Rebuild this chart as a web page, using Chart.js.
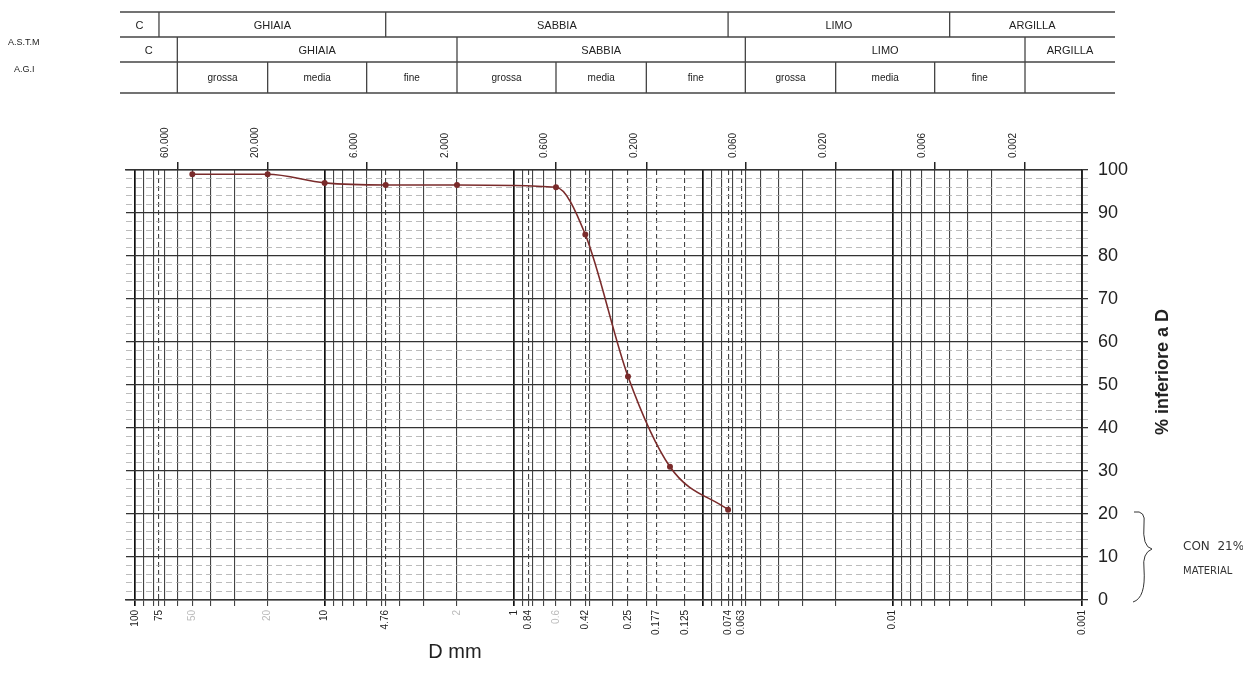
<!DOCTYPE html>
<html>
<head>
<meta charset="utf-8">
<script src="https://cdn.jsdelivr.net/npm/chart.js@4.4.1/dist/chart.umd.min.js"></script>
<style>
  html, body { margin: 0; background: #fff; }
  #wrap { position: relative; width: 1243px; height: 682px; }
</style>
</head>
<body>
<div id="wrap"><canvas id="chart"></canvas></div>
<script>
// curve read from the sheet: sieve size (mm) and % passing
const diam = [50, 20, 10, 4.76, 2, 0.6, 0.42, 0.25, 0.15, 0.074];
const passing = [99, 99, 97, 96.5, 96.5, 96, 85, 52, 31, 21];

// tick labels
const bottomTicks = [100, 75, 50, 20, 10, 4.76, 2, 1, 0.84, 0.6, 0.42, 0.25, 0.177, 0.125, 0.074, 0.063, 0.01, 0.001];
const fadedTicks = [50, 20, 2, 0.6];
const topTicks = [60, 20, 6, 2, 0.6, 0.2, 0.06, 0.02, 0.006, 0.002];
const sieveLines = [75, 4.76, 0.84, 0.42, 0.25, 0.177, 0.125, 0.074, 0.063];
const yLabels = [0, 10, 20, 30, 40, 50, 60, 70, 80, 90, 100];

// classification bands in the header
const astmNames = ['C', 'GHIAIA', 'SABBIA', 'LIMO', 'ARGILLA'];
const astmLimits = [75, 4.76, 0.074, 0.005];
const agiNames = ['C', 'GHIAIA', 'SABBIA', 'LIMO', 'ARGILLA'];
const agiLimits = [60, 2, 0.06, 0.002];
const agiSubNames = ['grossa', 'media', 'fine', 'grossa', 'media', 'fine', 'grossa', 'media', 'fine'];
const agiSubLimits = [60, 20, 6, 2, 0.6, 0.2, 0.06, 0.02, 0.006, 0.002];

const FONT = '"Liberation Sans", Arial, sans-serif';

// log paper rulings: 1..9 x 10^n plus the sieve sizes
let gridValues = [];
for (let n = -3; n <= 2; n++) {
  for (let k = 1; k <= 9; k++) {
    const v = parseFloat((k * Math.pow(10, n)).toPrecision(6));
    if (v <= 100) gridValues.push(v);
  }
}
sieveLines.forEach(v => gridValues.push(v));
gridValues.sort((a, b) => b - a);

function has(list, v) {
  return list.some(t => Math.abs(t - v) / t < 1e-6);
}
function isDecade(v) {
  return Math.abs(Math.log10(v) - Math.round(Math.log10(v))) < 1e-6;
}

const yGrid = [];
for (let i = 0; i <= 100; i += 2) yGrid.push(i);

const header = {
  id: 'header',
  afterDraw(chart) {
    const ctx = chart.ctx;
    const xs = chart.scales.x;
    const px = v => xs.getPixelForValue(v);
    const left = 120, right = 1115;
    const r0 = 12, r1 = 37, r2 = 62, r3 = 93;

    ctx.save();
    ctx.strokeStyle = '#444';
    ctx.lineWidth = 1.3;
    ctx.fillStyle = '#222';
    ctx.textAlign = 'center';
    ctx.textBaseline = 'middle';

    // horizontal lines
    [r0, r1, r2, r3].forEach(y => {
      ctx.beginPath(); ctx.moveTo(left, y); ctx.lineTo(right, y); ctx.stroke();
    });

    function row(limits, names, yTop, yBot) {
      const b = [left].concat(limits.map(px)).concat([right]);
      for (let i = 1; i < b.length - 1; i++) {
        ctx.beginPath(); ctx.moveTo(b[i], yTop); ctx.lineTo(b[i], yBot); ctx.stroke();
      }
      ctx.font = '11px ' + FONT;
      names.forEach((n, i) => ctx.fillText(n, (b[i] + b[i + 1]) / 2, (yTop + yBot) / 2 + 1));
    }
    row(astmLimits, astmNames, r0, r1);
    row(agiLimits, agiNames, r1, r2);

    // AGI sub classes
    const s = agiSubLimits.map(px);
    s.forEach(x => { ctx.beginPath(); ctx.moveTo(x, r2); ctx.lineTo(x, r3); ctx.stroke(); });
    ctx.font = '10px ' + FONT;
    agiSubNames.forEach((n, i) => ctx.fillText(n, (s[i] + s[i + 1]) / 2, (r2 + r3) / 2 + 1));

    ctx.font = '9px ' + FONT;
    ctx.textAlign = 'left';
    ctx.fillText('A.S.T.M', 8, 43);
    ctx.fillText('A.G.I', 14, 70);

    // axis names
    ctx.font = '20px ' + FONT;
    ctx.textAlign = 'center';
    ctx.fillText('D mm', 455, 652);

    ctx.save();
    ctx.translate(1163, 372);
    ctx.rotate(-Math.PI / 2);
    ctx.font = 'bold 18px ' + FONT;
    ctx.fillText('% inferiore a D', 0, 0);
    ctx.restore();

    // handwritten note with brace spanning 0-20 %
    const ys = chart.scales.y;
    const yTop = ys.getPixelForValue(20), yBot = ys.getPixelForValue(0);
    const yMid = (yTop + yBot) / 2 - 8;
    ctx.strokeStyle = '#333';
    ctx.lineWidth = 1;
    ctx.beginPath();
    ctx.moveTo(1134, yTop - 2);
    ctx.quadraticCurveTo(1146, yTop - 4, 1144, yTop + 10);
    ctx.quadraticCurveTo(1142, yMid - 2, 1152, yMid);
    ctx.quadraticCurveTo(1142, yMid + 4, 1144, yMid + 20);
    ctx.quadraticCurveTo(1146, yBot - 2, 1133, yBot + 2);
    ctx.stroke();
    ctx.textAlign = 'left';
    ctx.font = '12px "DejaVu Sans", sans-serif';
    ctx.fillStyle = '#333';
    ctx.fillText('CON  21%', 1183, yMid - 2);
    ctx.font = '10px "DejaVu Sans", sans-serif';
    ctx.fillText('MATERIAL', 1183, yMid + 22);
    ctx.restore();
  }
};

new Chart(document.getElementById('chart'), {
  type: 'line',
  data: {
    datasets: [{
      label: 'curva granulometrica',
      data: diam.map((d, i) => ({ x: d, y: passing[i] })),
      borderColor: '#7a2b2b',
      backgroundColor: '#7a2b2b',
      borderWidth: 1.6,
      pointRadius: 2.2,
      cubicInterpolationMode: 'monotone'
    }]
  },
  options: {
    responsive: true,
    maintainAspectRatio: false,
    animation: false,
    layout: { padding: { left: 126 } },
    plugins: { legend: { display: false }, tooltip: { enabled: false } },
    scales: {
      x: {
        type: 'logarithmic',
        position: 'bottom',
        reverse: true,
        min: 0.001,
        max: 112,
        afterBuildTicks: s => { s.ticks = gridValues.map(v => ({ value: v })); },
        afterFit: s => { s.height = 82; },
        ticks: {
          autoSkip: false,
          minRotation: 90,
          maxRotation: 90,
          padding: 4,
          font: { family: FONT, size: 10 },
          color: c => (c.tick && has(fadedTicks, c.tick.value)) ? '#bbb' : '#222',
          callback: v => has(bottomTicks, v) ? String(v) : ''
        },
        grid: {
          color: c => {
            if (!c.tick) return '#333';
            return isDecade(c.tick.value) ? '#111' : '#444';
          },
          lineWidth: c => (c.tick && isDecade(c.tick.value)) ? 1.7 : 1.1,
          tickLength: 6
        },
        border: {
          color: '#333',
          width: 1.5,
          dash: c => (c.tick && has(sieveLines, c.tick.value)) ? [5, 3] : []
        }
      },
      x2: {
        type: 'logarithmic',
        position: 'top',
        reverse: true,
        min: 0.001,
        max: 112,
        afterBuildTicks: s => { s.ticks = topTicks.map(v => ({ value: v })); },
        afterFit: s => { s.height = 170; },
        ticks: {
          autoSkip: false,
          minRotation: 90,
          maxRotation: 90,
          padding: 4,
          font: { family: FONT, size: 10 },
          color: '#222',
          callback: v => Number(v).toFixed(3)
        },
        grid: { drawOnChartArea: false, color: '#222', tickLength: 8, lineWidth: 1.5 },
        border: { color: '#333', width: 1.5 }
      },
      y: {
        type: 'linear',
        position: 'right',
        min: 0,
        max: 100,
        afterBuildTicks: s => { s.ticks = yGrid.map(v => ({ value: v })); },
        afterFit: s => { s.width = 161; },
        ticks: {
          autoSkip: false,
          padding: 10,
          font: { family: FONT, size: 18 },
          color: '#222',
          callback: v => yLabels.includes(v) ? String(v) : ''
        },
        grid: {
          color: c => (!c.tick || c.tick.value % 10 === 0) ? '#333' : '#aaa',
          lineWidth: c => (!c.tick || c.tick.value % 10 === 0) ? 1.3 : 0.8,
          tickLength: c => (c.tick && c.tick.value % 10 === 0) ? 10 : 6
        },
        border: {
          color: '#222',
          width: 1.8,
          dash: c => (c.tick && c.tick.value % 10 !== 0) ? [6, 4] : []
        }
      }
    }
  },
  plugins: [header]
});
</script>
</body>
</html>
